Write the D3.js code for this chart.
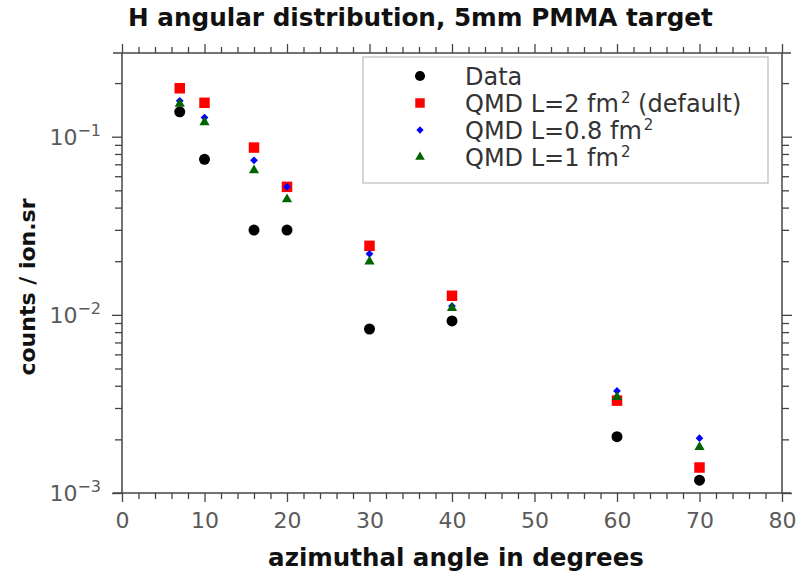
<!DOCTYPE html>
<html>
<head>
<meta charset="utf-8">
<script src="https://cdn.jsdelivr.net/npm/d3@7"></script>
<style>
  body { margin: 0; background: #fff; }
  svg text { font-family: "DejaVu Sans", sans-serif; }
</style>
</head>
<body>
<svg id="chart" width="807" height="576"></svg>
<script>
// Azimuthal angles (degrees) and yields (counts / ion.sr)
const angles = [7, 10, 16, 20, 30, 40, 60, 70];
const dataValues = [0.138, 0.0746, 0.0299, 0.0299, 0.00833, 0.00924, 0.00207, 0.00118];
const qmdL2 = [0.187, 0.155, 0.0869, 0.0523, 0.0244, 0.0128, 0.00330, 0.00139];
const qmdL08 = [0.159, 0.128, 0.0737, 0.0523, 0.0220, 0.0112, 0.00374, 0.00203];
const qmdL1 = [0.153, 0.1205, 0.0648, 0.0445, 0.0199, 0.0109, 0.00346, 0.00181];

const xMajorTicks = [0, 10, 20, 30, 40, 50, 60, 70, 80];
const yDecades = [1e-3, 1e-2, 1e-1];
const yDecadeExponents = ["−3", "−2", "−1"];

const svg = d3.select("#chart");
const plotLeft = 122, plotRight = 782, plotTop = 53, plotBottom = 493;

const x = d3.scaleLinear().domain([0, 80]).range([plotLeft, plotRight]);
const y = d3.scaleLog().domain([1e-3, 0.295]).range([plotBottom, plotTop]);

const axisColor = "#444";
const tickColor = "#5a5a5a";

// Minor tick positions
const xMinor = d3.range(0, 81, 2).filter(v => v % 10 !== 0);
const yMinor = [];
for (let e = -3; e <= -1; e++) {
  for (let m = 2; m <= 9; m++) {
    const v = m * Math.pow(10, e);
    if (v <= 0.295) yMinor.push(v);
  }
}

function styleAxis(g) {
  g.select(".domain").remove();
  g.selectAll(".tick line").attr("stroke", axisColor).attr("stroke-width", 1.3);
}

// Bottom axis: labelled major ticks + minor ticks
svg.append("g").attr("transform", `translate(0,${plotBottom})`)
  .call(d3.axisBottom(x).tickValues(xMajorTicks).tickSize(9).tickPadding(10).tickFormat(d3.format("d")))
  .call(styleAxis)
  .call(g => g.selectAll("text").attr("font-size", 22).attr("fill", tickColor)
    .attr("font-family", "DejaVu Sans, sans-serif"));
svg.append("g").attr("transform", `translate(0,${plotBottom})`)
  .call(d3.axisBottom(x).tickValues(xMinor).tickSize(6).tickFormat(""))
  .call(styleAxis);

// Top axis (ticks only)
svg.append("g").attr("transform", `translate(0,${plotTop})`)
  .call(d3.axisTop(x).tickValues(xMajorTicks).tickSize(9).tickFormat(""))
  .call(styleAxis);
svg.append("g").attr("transform", `translate(0,${plotTop})`)
  .call(d3.axisTop(x).tickValues(xMinor).tickSize(6).tickFormat(""))
  .call(styleAxis);

// Left axis with power-of-ten labels
const leftAxis = svg.append("g").attr("transform", `translate(${plotLeft},0)`)
  .call(d3.axisLeft(y).tickValues(yDecades).tickSize(10).tickPadding(8).tickFormat(""))
  .call(styleAxis);
leftAxis.selectAll(".tick").each(function(d, i) {
  const t = d3.select(this).append("text")
    .attr("x", -21).attr("dy", "0.35em")
    .attr("text-anchor", "end")
    .attr("fill", tickColor)
    .attr("font-size", 22);
  t.append("tspan").text("10");
  t.append("tspan").attr("dy", -9).attr("font-size", 16).text(yDecadeExponents[i]);
});
svg.append("g").attr("transform", `translate(${plotLeft},0)`)
  .call(d3.axisLeft(y).tickValues(yMinor).tickSize(7).tickFormat(""))
  .call(styleAxis);

// Right axis (ticks only)
svg.append("g").attr("transform", `translate(${plotRight},0)`)
  .call(d3.axisRight(y).tickValues(yDecades).tickSize(10).tickFormat(""))
  .call(styleAxis);
svg.append("g").attr("transform", `translate(${plotRight},0)`)
  .call(d3.axisRight(y).tickValues(yMinor).tickSize(7).tickFormat(""))
  .call(styleAxis);

// Frame
const frame = svg.append("g").attr("stroke", axisColor).attr("stroke-width", 1.5);
frame.append("line").attr("x1", plotLeft - 9).attr("x2", plotRight + 9).attr("y1", plotTop).attr("y2", plotTop);
frame.append("line").attr("x1", plotLeft - 9).attr("x2", plotRight + 9).attr("y1", plotBottom).attr("y2", plotBottom);
frame.append("line").attr("x1", plotLeft).attr("x2", plotLeft).attr("y1", plotTop).attr("y2", plotBottom);
frame.append("line").attr("x1", plotRight).attr("x2", plotRight).attr("y1", plotTop).attr("y2", plotBottom);

// Series
const series = [
  { name: "Data", values: dataValues, color: "#000000", shape: d3.symbolCircle, size: 95, legendSize: 80 },
  { name: "QMD L=2 fm", sup: "2", tail: " (default)", values: qmdL2, color: "#ff0000", shape: d3.symbolSquare, size: 110, legendSize: 90 },
  { name: "QMD L=0.8 fm", sup: "2", tail: "", values: qmdL08, color: "#0000ff", shape: d3.symbolDiamond2, size: 38, legendSize: 34 },
  { name: "QMD L=1 fm", sup: "2", tail: "", values: qmdL1, color: "#006400", shape: d3.symbolTriangle, size: 45, legendSize: 40 }
];

series.forEach(s => {
  svg.append("g").selectAll("path")
    .data(angles.map((a, i) => [a, s.values[i]]))
    .join("path")
    .attr("transform", d => `translate(${x(d[0])},${y(d[1])})`)
    .attr("d", d3.symbol().type(s.shape).size(s.size))
    .attr("fill", s.color);
});

// Legend
const legend = svg.append("g");
legend.append("rect")
  .attr("x", 363).attr("y", 57).attr("width", 405).attr("height", 126)
  .attr("fill", "#fff").attr("stroke", "#bbb").attr("stroke-width", 1.2);
series.forEach((s, i) => {
  const ly = 76 + i * 27;
  legend.append("path")
    .attr("transform", `translate(420,${ly})`)
    .attr("d", d3.symbol().type(s.shape).size(s.legendSize))
    .attr("fill", s.color);
  const t = legend.append("text")
    .attr("x", 465).attr("y", ly).attr("dy", "0.36em")
    .attr("font-size", 24).attr("fill", "#333");
  t.append("tspan").text(s.name);
  if (s.sup) {
    t.append("tspan").attr("dx", 2).attr("dy", -9).attr("font-size", 15).text(s.sup);
    if (s.tail) t.append("tspan").attr("dy", 9).attr("font-size", 24).text(s.tail);
  }
});

// Titles
svg.append("text")
  .attr("x", 128).attr("y", 26)
  .attr("font-size", 24.7).attr("font-weight", "bold").attr("fill", "#111")
  .text("H angular distribution, 5mm PMMA target");

svg.append("text")
  .attr("x", 456).attr("y", 566)
  .attr("text-anchor", "middle")
  .attr("font-size", 24.5).attr("font-weight", "bold").attr("fill", "#111")
  .text("azimuthal angle in degrees");

svg.append("text")
  .attr("transform", `translate(35,${(plotTop + plotBottom) / 2 + 14}) rotate(-90)`)
  .attr("text-anchor", "middle")
  .attr("font-size", 22).attr("font-weight", "bold").attr("fill", "#111")
  .text("counts / ion.sr");
</script>
</body>
</html>
